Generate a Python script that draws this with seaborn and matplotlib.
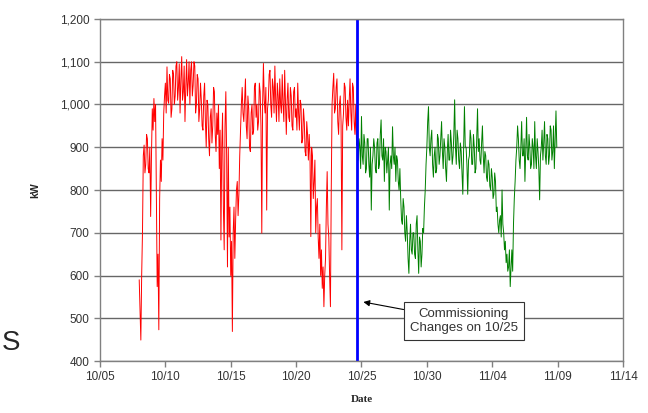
import matplotlib.pyplot as plt
import matplotlib.dates as mdates
import matplotlib.ticker as mticker
import pandas as pd
import seaborn as sns

# kW readings every 90 minutes
before_kw = [
    590, 520, 449, 600, 700, 880, 905, 840, 860, 930, 920, 850, 840, 900, 738, 880,              # 10/08
    990, 940, 1014, 960, 1000, 800, 574, 650, 473, 780, 870, 820, 920, 870, 980, 1020,           # 10/09
    1050, 980, 1088, 1010, 1003, 1070, 1060, 970, 990, 1080, 1070, 1000, 1020, 1090, 1100, 1010, # 10/10
    1040, 1095, 980, 1060, 1112, 1010, 1030, 1090, 960, 1040, 1105, 1020, 1050, 1100, 1000, 1080,# 10/11
    1100, 1020, 1045, 1100, 1090, 980, 1000, 1070, 1060, 960, 990, 1050, 1010, 950, 940, 1020,   # 10/12
    1050, 960, 900, 1010, 1000, 920, 880, 970, 990, 910, 950, 1040, 1030, 930, 890, 980,         # 10/13
    930, 1000, 850, 940, 683, 900, 980, 760, 660, 950, 1030, 880, 620, 900, 690, 760,            # 10/14
    600, 680, 469, 700, 760, 640, 730, 800, 820, 740, 790, 880, 940, 1000, 1040, 980,            # 10/15
    960, 1010, 1060, 950, 920, 1020, 990, 900, 890, 980, 1000, 930, 940, 1040, 1050, 970,        # 10/16
    1000, 940, 960, 1050, 1030, 950, 699, 1000, 1096, 1010, 980, 1040, 753, 990, 1010, 1070,     # 10/17
    1080, 1000, 970, 1060, 1040, 980, 1090, 1010, 960, 1050, 1020, 960, 1060, 1000, 980, 1070,   # 10/18
    1000, 960, 1080, 1000, 930, 1010, 1050, 970, 960, 1040, 1020, 950, 940, 1030, 1040, 970,     # 10/19
    990, 940, 1050, 980, 940, 1010, 1000, 910, 920, 990, 960, 890, 880, 960, 930, 870,           # 10/20
    930, 880, 691, 900, 880, 780, 820, 870, 700, 760, 780, 690, 640, 720, 600, 660,              # 10/21
    570, 620, 527, 600, 640, 760, 843, 720, 690, 600, 527, 800, 1000, 1040, 1073, 980,           # 10/22
    990, 1040, 1060, 960, 930, 1000, 1020, 960, 660, 950, 980, 1050, 1040, 970, 940, 1010,       # 10/23
    950, 1010, 1060, 980, 940, 1050, 1040, 960, 930, 1000, 905,                                  # 10/24
]
after_kw = [
    905, 950, 870, 920, 900, 850,                                                                # 10/24
    972, 880, 860, 930, 910, 840, 850, 920, 920, 860, 830, 900, 753, 860, 880, 920,              # 10/25
    900, 850, 840, 910, 920, 850, 860, 930, 964, 880, 870, 920, 820, 900, 890, 840,              # 10/26
    870, 900, 753, 860, 880, 850, 948, 880, 860, 900, 820, 880, 870, 820, 800, 850,              # 10/27
    780, 730, 720, 780, 760, 700, 680, 740, 700, 640, 605, 680, 720, 660, 650, 700,              # 10/28
    700, 650, 640, 720, 740, 660, 605, 690, 680, 620, 650, 710, 700, 760, 800, 860,              # 10/29
    900, 960, 995, 900, 880, 920, 940, 860, 830, 880, 900, 840, 850, 930, 920, 860,              # 10/30
    880, 920, 960, 890, 850, 920, 900, 850, 820, 890, 930, 870, 870, 940, 910, 860,              # 10/31
    880, 930, 1011, 900, 860, 940, 920, 870, 850, 910, 890, 840, 790, 900, 995, 900,             # 11/01
    900, 860, 790, 870, 880, 940, 920, 860, 860, 930, 900, 840, 850, 920, 990, 890,              # 11/02
    920, 870, 860, 910, 950, 880, 840, 890, 880, 830, 820, 870, 860, 810, 800, 850,              # 11/03
    830, 780, 790, 840, 820, 750, 760, 720, 700, 730, 740, 690, 800, 720, 700, 660,              # 11/04
    680, 630, 650, 610, 620, 660, 574, 620, 660, 610, 720, 780, 820, 870, 900, 950,              # 11/05
    920, 870, 850, 900, 960, 880, 880, 920, 820, 890, 970, 880, 870, 930, 900, 850,              # 11/06
    860, 920, 900, 850, 960, 880, 850, 920, 890, 850, 777, 880, 900, 940, 870, 910,              # 11/07
    960, 880, 860, 930, 920, 860, 880, 950, 940, 870, 890, 950, 850, 920, 985, 900,              # 11/08
]
before_start = '2008-10-08 00:00'
after_start = '2008-10-24 15:00'
change_date = '2008-10-24 15:00'
x_ticks = pd.date_range('2008-10-05', '2008-11-14', freq='5D')
y_ticks = list(range(400, 1201, 100))
note = 'Commissioning\nChanges on 10/25'

before = pd.DataFrame({'time': pd.date_range(before_start, periods=len(before_kw), freq='90min'),
                       'kW': before_kw})
after = pd.DataFrame({'time': pd.date_range(after_start, periods=len(after_kw), freq='90min'),
                      'kW': after_kw})

sns.set_style('white')
plt.rcParams['font.family'] = ['Liberation Sans', 'DejaVu Sans']

fig, ax = plt.subplots(figsize=(6.48, 4.13), dpi=100)
fig.subplots_adjust(left=0.1543, right=0.9614, top=0.954, bottom=0.1259)

ax.yaxis.grid(True, color='#666666', lw=1)
ax.set_axisbelow(True)

sns.lineplot(data=before, x='time', y='kW', color='#ff0000', lw=0.7, ax=ax)
sns.lineplot(data=after, x='time', y='kW', color='#008000', lw=0.7, ax=ax)
ax.axvline(pd.Timestamp(change_date), color='#0000ff', lw=2)

ax.set_xlim(x_ticks[0], x_ticks[-1])
ax.set_ylim(y_ticks[0], y_ticks[-1])
ax.set_xticks(x_ticks)
ax.set_yticks(y_ticks)
ax.xaxis.set_major_formatter(mdates.DateFormatter('%m/%d'))
ax.yaxis.set_major_formatter(mticker.FuncFormatter(lambda v, p: f'{v:,.0f}'))
ax.tick_params(axis='both', labelsize=8.5, labelcolor='#333333', length=4,
               width=1, color='#808080', direction='out', left=True, bottom=True)
for s in ax.spines.values():
    s.set_color('#808080')
    s.set_linewidth(1)

ax.set_xlabel('Date', fontsize=8, fontweight='bold', family='Liberation Serif', labelpad=8)
ax.set_ylabel('kW', fontsize=7.5, fontweight='bold', labelpad=14)

ax.annotate(note,
            xy=(mdates.date2num(pd.Timestamp('2008-10-25 03:30')), 538),
            xytext=(mdates.date2num(pd.Timestamp('2008-11-01 20:00')), 494),
            ha='center', va='center', fontsize=9.5, color='#333333', linespacing=1.25,
            bbox=dict(boxstyle='square,pad=0.45', fc='white', ec='#333333', lw=0.8),
            arrowprops=dict(arrowstyle='-|>', color='black', lw=0.8,
                            mutation_scale=9, shrinkA=0, shrinkB=0))

fig.text(11 / 648, 1 - 343 / 413, 'S', fontsize=20, ha='center', va='center')

fig.savefig('out.png', dpi=100)
